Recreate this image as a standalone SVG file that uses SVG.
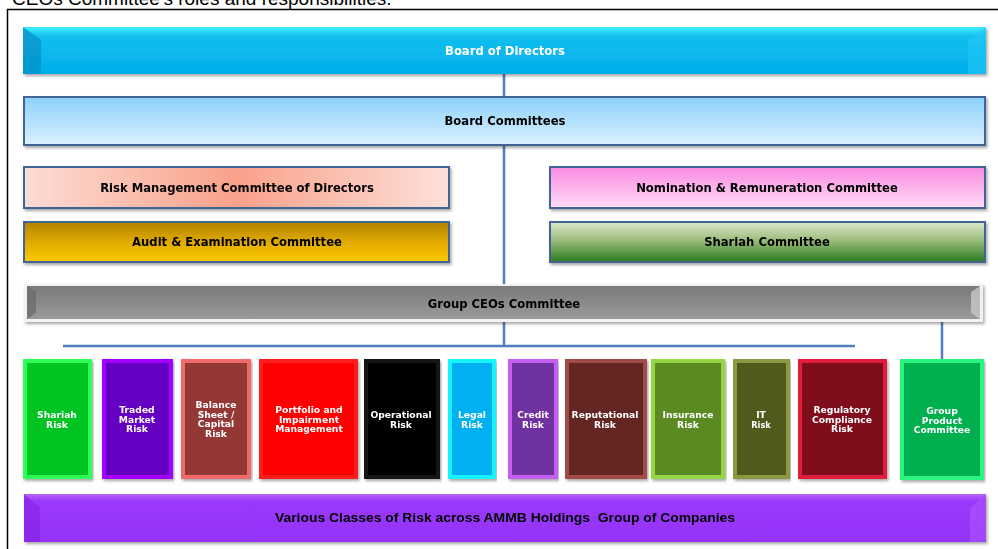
<svg xmlns="http://www.w3.org/2000/svg" width="998" height="549" viewBox="0 0 998 549">
  <defs>
    <linearGradient id="gBoard" x1="0" y1="0" x2="0" y2="1">
      <stop offset="0" stop-color="#3ff0ff"/>
      <stop offset="0.2" stop-color="#13bff0"/>
      <stop offset="1" stop-color="#00aee9"/>
    </linearGradient>
    <linearGradient id="gComm" x1="0" y1="0" x2="0" y2="1">
      <stop offset="0" stop-color="#8bd1fa"/>
      <stop offset="1" stop-color="#dcf0ff"/>
    </linearGradient>
    <linearGradient id="gRisk" x1="0" y1="0" x2="1" y2="0">
      <stop offset="0" stop-color="#fddcd6"/>
      <stop offset="0.5" stop-color="#f9a189"/>
      <stop offset="1" stop-color="#fde0da"/>
    </linearGradient>
    <linearGradient id="gAudit" x1="0" y1="0" x2="0" y2="1">
      <stop offset="0" stop-color="#b08300"/>
      <stop offset="0.5" stop-color="#e2aa00"/>
      <stop offset="1" stop-color="#fac800"/>
    </linearGradient>
    <linearGradient id="gNom" x1="0" y1="0" x2="0" y2="1">
      <stop offset="0" stop-color="#fa8be2"/>
      <stop offset="1" stop-color="#ffdcf6"/>
    </linearGradient>
    <linearGradient id="gShariah" x1="0" y1="0" x2="0" y2="1">
      <stop offset="0" stop-color="#dde9cc"/>
      <stop offset="0.45" stop-color="#9cbd7d"/>
      <stop offset="1" stop-color="#2a7a20"/>
    </linearGradient>
    <linearGradient id="gCeo" x1="0" y1="0" x2="0" y2="1">
      <stop offset="0" stop-color="#7a7a7a"/>
      <stop offset="1" stop-color="#9a9a9a"/>
    </linearGradient>
    <linearGradient id="gVar" x1="0" y1="0" x2="0" y2="1">
      <stop offset="0" stop-color="#b766ff"/>
      <stop offset="0.15" stop-color="#9a38fb"/>
      <stop offset="1" stop-color="#9433f8"/>
    </linearGradient>
    <filter id="shadow" x="-5%" y="-10%" width="110%" height="130%">
      <feDropShadow dx="1.5" dy="2" stdDeviation="1.5" flood-color="#000" flood-opacity="0.35"/>
    </filter>
  </defs>
  <style>
    .title { font-family: "Liberation Sans", Arial, sans-serif; font-size: 19px; fill: #000; }
    .lbl { font-family: "DejaVu Sans", Verdana, sans-serif; font-size: 11.6px; font-weight: bold; text-anchor: middle; }
    .dark { fill: #000; }
    .light { fill: #fff; }
    .sm { font-family: "DejaVu Sans", Verdana, sans-serif; font-size: 9.2px; font-weight: bold; text-anchor: middle; fill: #fff; }
    .panel { stroke: #3f6594; stroke-width: 2; }
    .conn { stroke: #4f7fbd; stroke-width: 2.5; fill: none; }
    .frame { stroke: #000; stroke-width: 1.5; fill: none; }
    .rbox { stroke-width: 4; }
    .wide { font-family: "Liberation Sans", Arial, sans-serif; font-size: 12px; font-weight: bold; text-anchor: middle; fill: #000; white-space: pre; }
  </style>

  <!-- page heading, running off the top edge -->
  <text class="title" x="12" y="5">CEOs Committee's roles and responsibilities.</text>
  <path class="frame" d="M7.5,549 V9.5 H998"/>

  <!-- connectors -->
  <g id="connectors">
    <line class="conn" x1="504" y1="74" x2="504" y2="97"/>
    <line class="conn" x1="504" y1="145" x2="504" y2="284"/>
    <line class="conn" x1="504" y1="322" x2="504" y2="346"/>
    <line class="conn" x1="63" y1="346" x2="855" y2="346"/>
    <line class="conn" x1="942" y1="322" x2="942" y2="359"/>
  </g>

  <g id="board-of-directors" filter="url(#shadow)">
    <rect x="23" y="27" width="963" height="47" fill="url(#gBoard)"/>
    <polygon points="23,27 41,40 41,74 23,74" fill="#0693cc" opacity="0.8"/>
    <polygon points="986,27 968,40 968,74 986,74" fill="#22c7f5" opacity="0.6"/>
    <text class="lbl light" x="505" y="55">Board of Directors</text>
  </g>

  <g id="board-committees" filter="url(#shadow)">
    <rect class="panel" x="24" y="97" width="961" height="48" fill="url(#gComm)"/>
    <text class="lbl dark" x="505" y="125">Board Committees</text>
  </g>

  <g id="risk-management-committee" filter="url(#shadow)">
    <rect class="panel" x="24" y="167" width="425" height="41" fill="url(#gRisk)"/>
    <text class="lbl dark" x="237" y="192">Risk Management Committee of Directors</text>
  </g>

  <g id="audit-committee" filter="url(#shadow)">
    <rect class="panel" x="24" y="222" width="425" height="40" fill="url(#gAudit)"/>
    <text class="lbl dark" x="237" y="246">Audit &amp; Examination Committee</text>
  </g>

  <g id="nomination-committee" filter="url(#shadow)">
    <rect class="panel" x="550" y="167" width="435" height="41" fill="url(#gNom)"/>
    <text class="lbl dark" x="767" y="192">Nomination &amp; Remuneration Committee</text>
  </g>

  <g id="shariah-committee" filter="url(#shadow)">
    <rect class="panel" x="550" y="222" width="435" height="40" fill="url(#gShariah)"/>
    <text class="lbl dark" x="767" y="246">Shariah Committee</text>
  </g>

  <g id="group-ceos-committee" filter="url(#shadow)">
    <rect x="24" y="284" width="959" height="38" fill="#f2f2f2"/>
    <rect x="27" y="286" width="953" height="33" fill="url(#gCeo)"/>
    <polygon points="27,286 36,292 36,313 27,319" fill="#6a6a6a" opacity="0.7"/>
    <polygon points="980,286 971,292 971,313 980,319" fill="#c8c8c8" opacity="0.8"/>
    <text class="lbl dark" x="504" y="308">Group CEOs Committee</text>
  </g>

  <!-- risk classes -->
  <g id="shariah-risk" filter="url(#shadow)">
    <rect class="rbox" x="25" y="361" width="65" height="116" fill="#00c422" stroke="#2dff55"/>
    <text class="sm" x="57" y="418">Shariah</text>
    <text class="sm" x="57" y="427.5">Risk</text>
  </g>

  <g id="traded-market-risk" filter="url(#shadow)">
    <rect class="rbox" x="104" y="361" width="67" height="116" fill="#6500c2" stroke="#a300ff"/>
    <text class="sm" x="137" y="413">Traded</text>
    <text class="sm" x="137" y="422.5">Market</text>
    <text class="sm" x="137" y="432">Risk</text>
  </g>

  <g id="balance-sheet-risk" filter="url(#shadow)">
    <rect class="rbox" x="183" y="361" width="66" height="116" fill="#943735" stroke="#f06a6a"/>
    <text class="sm" x="216" y="408">Balance</text>
    <text class="sm" x="216" y="417.5">Sheet /</text>
    <text class="sm" x="216" y="427">Capital</text>
    <text class="sm" x="216" y="436.5">Risk</text>
  </g>

  <g id="portfolio-risk" filter="url(#shadow)">
    <rect class="rbox" x="261" y="361" width="95" height="116" fill="#ff0000" stroke="#ff1a1a"/>
    <text class="sm" x="309" y="413">Portfolio and</text>
    <text class="sm" x="309" y="422.5">Impairment</text>
    <text class="sm" x="309" y="432">Management</text>
  </g>

  <g id="operational-risk" filter="url(#shadow)">
    <rect class="rbox" x="366" y="361" width="72" height="116" fill="#000000" stroke="#141414"/>
    <text class="sm" x="401" y="418">Operational</text>
    <text class="sm" x="401" y="427.5">Risk</text>
  </g>

  <g id="legal-risk" filter="url(#shadow)">
    <rect class="rbox" x="450" y="361" width="44" height="116" fill="#00b0f0" stroke="#19f3ff"/>
    <text class="sm" x="472" y="418">Legal</text>
    <text class="sm" x="472" y="428">Risk</text>
  </g>

  <g id="credit-risk" filter="url(#shadow)">
    <rect class="rbox" x="510" y="361" width="46" height="116" fill="#7030a0" stroke="#c45ef2"/>
    <text class="sm" x="533" y="418">Credit</text>
    <text class="sm" x="533" y="428">Risk</text>
  </g>

  <g id="reputational-risk" filter="url(#shadow)">
    <rect class="rbox" x="567" y="361" width="78" height="116" fill="#632524" stroke="#a14c48"/>
    <text class="sm" x="605" y="418">Reputational</text>
    <text class="sm" x="605" y="427.5">Risk</text>
  </g>

  <g id="insurance-risk" filter="url(#shadow)">
    <rect class="rbox" x="653" y="361" width="70" height="116" fill="#5b8a24" stroke="#95d644"/>
    <text class="sm" x="688" y="418">Insurance</text>
    <text class="sm" x="688" y="427.5">Risk</text>
  </g>

  <g id="it-risk" filter="url(#shadow)">
    <rect class="rbox" x="735" y="361" width="53" height="116" fill="#4f5a1e" stroke="#8b9a40"/>
    <text class="sm" x="761" y="418">IT</text>
    <text class="sm" x="761" y="427.5" style="font-size:8.2px">Risk</text>
  </g>

  <g id="regulatory-compliance-risk" filter="url(#shadow)">
    <rect class="rbox" x="800" y="361" width="85" height="116" fill="#7f0a1b" stroke="#e21e3a"/>
    <text class="sm" x="842" y="413">Regulatory</text>
    <text class="sm" x="842" y="422.5">Compliance</text>
    <text class="sm" x="842" y="432">Risk</text>
  </g>

  <g id="group-product-committee" filter="url(#shadow)">
    <rect class="rbox" x="902" y="361" width="80" height="117" fill="#00b050" stroke="#2cf37f"/>
    <text class="sm" x="942" y="414">Group</text>
    <text class="sm" x="942" y="423.5">Product</text>
    <text class="sm" x="942" y="433">Committee</text>
  </g>

  <g id="various-classes" filter="url(#shadow)">
    <rect x="24" y="494" width="962" height="48" fill="url(#gVar)"/>
    <polygon points="24,494 40,508 40,542 24,542" fill="#8a28e8" opacity="0.8"/>
    <polygon points="986,494 970,508 970,542 986,542" fill="#a850ff" opacity="0.7"/>
    <text class="wide" x="505" y="522" textLength="460" lengthAdjust="spacingAndGlyphs">Various Classes of Risk across AMMB Holdings  Group of Companies</text>
  </g>
</svg>
